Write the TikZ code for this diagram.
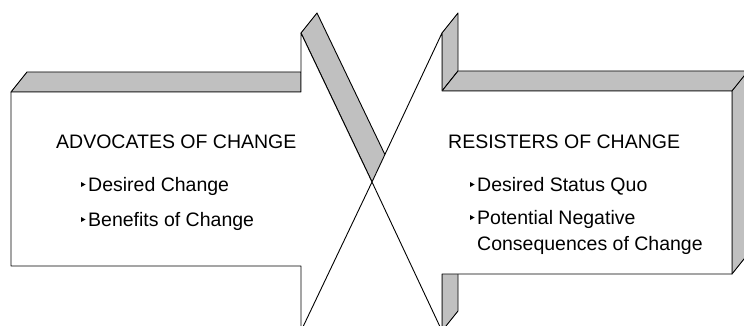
\documentclass[tikz,border=0pt]{standalone}
\usepackage{fontspec}
\setmainfont{Liberation Sans}
\definecolor{facegray}{RGB}{192,192,192}
\begin{document}
\begin{tikzpicture}[x=1pt,y=-1pt,
  face/.style={draw=black,fill=facegray,line width=0.9pt,line join=round},
  front/.style={draw=black,fill=white,line width=0.9pt,line join=round},
  lbl/.style={anchor=base west,inner sep=0pt,font=\fontsize{19.5}{24}\selectfont},
  bul/.style={fill=black}]
\useasboundingbox (0,0) rectangle (744,326);
\fill[white] (0,0) rectangle (744,326);
\clip (0,0) rectangle (744,326);
% tip of both arrows
\coordinate (T) at (372,182);
% ---------- left arrow (advocates) ----------
\draw[face] (11,92) -- (27,72) -- (301,72) -- (301,92) -- cycle;
\draw[face] (301,33) -- (317,13) -- (388,161) -- (T) -- cycle;
\draw[front] (11,92) -- (301,92) -- (301,33) -- (T) -- (301,331) -- (301,266) -- (11,266) -- cycle;
% ---------- right arrow (resisters) ----------
\draw[face] (442,33) -- (458,13) -- (458,71) -- (442,91) -- cycle;
\draw[face] (442,91) -- (458,71) -- (752,71) -- (732,91) -- cycle;
\draw[face] (732,91) -- (748,71) -- (748,254) -- (732,274) -- cycle;
\draw[face] (442,274) -- (458,254) -- (458,311) -- (442,331) -- cycle;
\draw[front] (442,33) -- (442,91) -- (732,91) -- (732,274) -- (442,274) -- (442,331) -- (T) -- cycle;
% ---------- texts ----------
\node[lbl] (lh) at (56,149) {ADVOCATES OF CHANGE};
\node[lbl] (l1) at (88,191) {Desired Change};
\node[lbl] (l2) at (88,226) {Benefits of Change};
\node[lbl] (rh) at (448,149) {RESISTERS OF CHANGE};
\node[lbl] (r1) at (477,191) {Desired Status Quo};
\node[lbl] (r2) at (477,224) {Potential Negative};
\node[lbl] (r3) at (477,250) {Consequences of Change};
% bullets
\foreach \n in {l1,l2,r1,r2}
  \fill[bul] ([shift={(-7,-9)}]\n.base west) -- ++(0,5) -- ++(4.5,-2.5) -- cycle;
\end{tikzpicture}
\end{document}
